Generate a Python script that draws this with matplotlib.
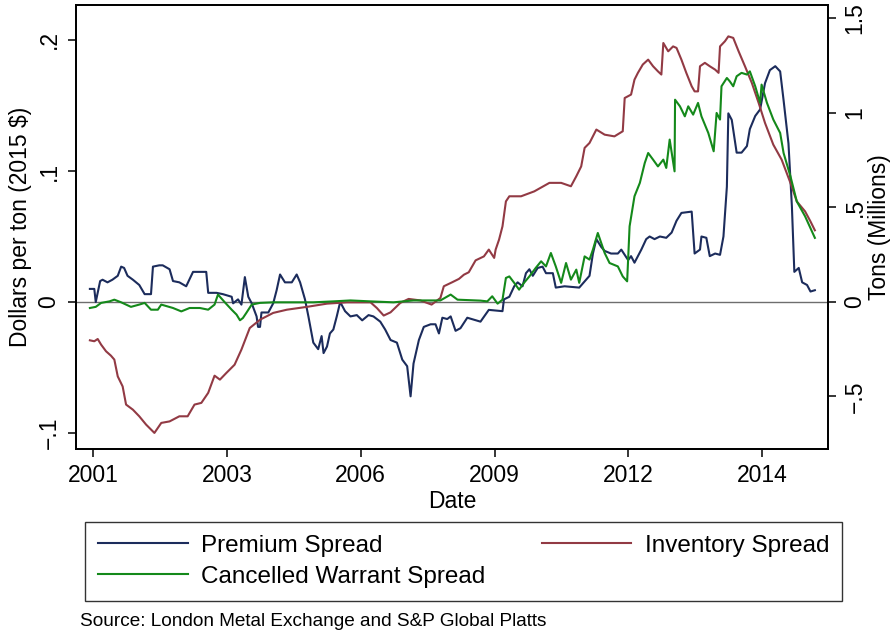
import matplotlib
matplotlib.use("Agg")
import matplotlib.pyplot as plt
import numpy as np
import pandas as pd

plt.rcParams['font.family'] = ['Liberation Sans', 'DejaVu Sans']

# premium spread, dollars per ton (left axis)
prem_year = [2001.00, 2001.09, 2001.12, 2001.21, 2001.26, 2001.36, 2001.46, 2001.57, 2001.64, 2001.70,
             2001.77, 2001.88, 2002.01, 2002.12, 2002.25, 2002.29, 2002.42, 2002.49, 2002.63, 2002.70,
             2002.83, 2002.97, 2003.11, 2003.38, 2003.42, 2003.59, 2003.72, 2003.90, 2003.93, 2004.03,
             2004.10, 2004.17, 2004.24, 2004.31, 2004.41, 2004.44, 2004.48, 2004.51, 2004.65, 2004.75,
             2004.82, 2004.89, 2004.99, 2005.13, 2005.23, 2005.30, 2005.40, 2005.47, 2005.57, 2005.67,
             2005.74, 2005.78, 2005.85, 2005.91, 2005.98, 2006.05, 2006.12, 2006.22, 2006.33, 2006.46,
             2006.57, 2006.70, 2006.80, 2006.94, 2007.04, 2007.15, 2007.28, 2007.39, 2007.49, 2007.56,
             2007.62, 2007.73, 2007.83, 2007.97, 2008.07, 2008.14, 2008.21, 2008.31, 2008.38, 2008.48,
             2008.58, 2008.72, 2008.99, 2009.16, 2009.44, 2009.47, 2009.58, 2009.68, 2009.75, 2009.85,
             2009.92, 2009.99, 2010.06, 2010.16, 2010.26, 2010.33, 2010.47, 2010.53, 2010.71, 2011.01,
             2011.15, 2011.22, 2011.29, 2011.36, 2011.46, 2011.53, 2011.66, 2011.80, 2011.87, 2011.94,
             2012.01, 2012.07, 2012.14, 2012.28, 2012.38, 2012.45, 2012.55, 2012.66, 2012.79, 2012.90,
             2013.00, 2013.10, 2013.31, 2013.37, 2013.48, 2013.51, 2013.61, 2013.68, 2013.79, 2013.89,
             2013.96, 2014.03, 2014.06, 2014.13, 2014.23, 2014.33, 2014.44, 2014.50, 2014.61, 2014.71,
             2014.81, 2014.91, 2015.02, 2015.12, 2015.19, 2015.29, 2015.36, 2015.41, 2015.50, 2015.57,
             2015.67, 2015.74, 2015.83]
prem_val = [0.010, 0.010, 0.000, 0.016, 0.017, 0.015, 0.017, 0.020, 0.027, 0.026,
            0.020, 0.017, 0.013, 0.006, 0.006, 0.027, 0.028, 0.028, 0.025, 0.016,
            0.015, 0.012, 0.023, 0.023, 0.007, 0.007, 0.006, 0.004, -0.001, 0.002,
            -0.002, 0.019, 0.004, -0.001, -0.011, -0.019, -0.019, -0.008, -0.008, -0.001,
            0.009, 0.021, 0.015, 0.015, 0.021, 0.015, 0.002, -0.011, -0.031, -0.036,
            -0.026, -0.039, -0.034, -0.024, -0.021, -0.011, 0.000, -0.007, -0.011, -0.010,
            -0.014, -0.010, -0.011, -0.015, -0.021, -0.029, -0.031, -0.044, -0.049, -0.072,
            -0.047, -0.029, -0.019, -0.017, -0.017, -0.024, -0.012, -0.013, -0.011, -0.022,
            -0.020, -0.012, -0.015, -0.006, -0.007, 0.002, 0.004, 0.012, 0.015, 0.012,
            0.022, 0.025, 0.020, 0.026, 0.027, 0.022, 0.022, 0.011, 0.012, 0.011,
            0.017, 0.020, 0.037, 0.048, 0.042, 0.039, 0.037, 0.037, 0.040, 0.036,
            0.032, 0.035, 0.030, 0.040, 0.048, 0.050, 0.048, 0.050, 0.049, 0.053,
            0.062, 0.068, 0.069, 0.037, 0.040, 0.050, 0.049, 0.035, 0.037, 0.036,
            0.050, 0.088, 0.144, 0.139, 0.114, 0.114, 0.119, 0.132, 0.142, 0.147,
            0.167, 0.177, 0.180, 0.176, 0.154, 0.121, 0.073, 0.023, 0.026, 0.015,
            0.013, 0.008, 0.009]

# inventory spread, million tons (right axis)
inv_year = [2001.00, 2001.09, 2001.16, 2001.23, 2001.33, 2001.43, 2001.50, 2001.57, 2001.67, 2001.74,
            2001.88, 2002.01, 2002.15, 2002.32, 2002.46, 2002.63, 2002.83, 2003.00, 2003.14, 2003.28,
            2003.42, 2003.55, 2003.66, 2003.79, 2003.96, 2004.10, 2004.27, 2004.48, 2004.75, 2005.03,
            2005.44, 2005.85, 2006.26, 2006.74, 2006.87, 2007.01, 2007.15, 2007.35, 2007.52, 2007.76,
            2007.99, 2008.17, 2008.24, 2008.41, 2008.55, 2008.65, 2008.75, 2008.89, 2009.06, 2009.16,
            2009.27, 2009.30, 2009.37, 2009.44, 2009.51, 2009.58, 2009.82, 2010.09, 2010.40, 2010.64,
            2010.84, 2010.95, 2011.05, 2011.12, 2011.22, 2011.36, 2011.53, 2011.73, 2011.90, 2011.94,
            2012.07, 2012.14, 2012.21, 2012.31, 2012.42, 2012.52, 2012.62, 2012.69, 2012.73, 2012.83,
            2012.93, 2013.00, 2013.10, 2013.20, 2013.31, 2013.37, 2013.44, 2013.48, 2013.58, 2013.68,
            2013.79, 2013.86, 2013.89, 2013.99, 2014.06, 2014.16, 2014.27, 2014.40, 2014.54, 2014.68,
            2014.81, 2014.98, 2015.15, 2015.33, 2015.46, 2015.63, 2015.74, 2015.83]
inv_val = [-0.203, -0.208, -0.196, -0.226, -0.261, -0.284, -0.305, -0.394, -0.447, -0.543,
           -0.570, -0.605, -0.649, -0.693, -0.640, -0.632, -0.605, -0.605, -0.543, -0.534,
           -0.481, -0.390, -0.411, -0.376, -0.332, -0.252, -0.138, -0.094, -0.058, -0.041,
           -0.026, -0.009, -0.002, -0.002, -0.032, -0.072, -0.055, -0.005, 0.016, 0.008,
           -0.014, 0.021, 0.083, 0.104, 0.122, 0.144, 0.157, 0.220, 0.241, 0.277,
           0.233, 0.277, 0.330, 0.400, 0.532, 0.559, 0.559, 0.585, 0.630, 0.630,
           0.612, 0.665, 0.717, 0.815, 0.841, 0.912, 0.885, 0.876, 0.903, 1.079,
           1.097, 1.176, 1.212, 1.256, 1.282, 1.247, 1.220, 1.203, 1.370, 1.326,
           1.352, 1.344, 1.282, 1.212, 1.141, 1.114, 1.114, 1.247, 1.265, 1.247,
           1.229, 1.212, 1.352, 1.379, 1.405, 1.397, 1.326, 1.247, 1.159, 1.053,
           0.947, 0.832, 0.753, 0.630, 0.532, 0.479, 0.426, 0.379]

# cancelled warrant spread, million tons (right axis)
cw_year = [2001.00, 2001.12, 2001.23, 2001.40, 2001.50, 2001.64, 2001.84, 2002.01, 2002.12, 2002.25,
           2002.39, 2002.46, 2002.70, 2002.87, 2003.04, 2003.25, 2003.42, 2003.55, 2003.62, 2003.76,
           2003.90, 2004.00, 2004.07, 2004.13, 2004.20, 2004.31, 2004.48, 2004.75, 2005.16, 2005.57,
           2005.98, 2006.33, 2006.74, 2007.21, 2007.62, 2008.17, 2008.38, 2008.52, 2008.99, 2009.13,
           2009.23, 2009.34, 2009.44, 2009.51, 2009.58, 2009.68, 2009.78, 2009.88, 2009.99, 2010.12,
           2010.23, 2010.33, 2010.43, 2010.53, 2010.64, 2010.74, 2010.84, 2010.95, 2011.01, 2011.12,
           2011.22, 2011.29, 2011.39, 2011.53, 2011.63, 2011.80, 2011.90, 2011.99, 2012.04, 2012.14,
           2012.25, 2012.35, 2012.42, 2012.52, 2012.62, 2012.73, 2012.79, 2012.86, 2012.96, 2012.97,
           2013.07, 2013.17, 2013.24, 2013.34, 2013.44, 2013.51, 2013.65, 2013.76, 2013.82, 2013.89,
           2013.92, 2014.03, 2014.09, 2014.16, 2014.23, 2014.33, 2014.44, 2014.50, 2014.61, 2014.71,
           2014.74, 2014.85, 2014.98, 2015.12, 2015.19, 2015.33, 2015.46, 2015.63, 2015.83]
cw_val = [-0.032, -0.026, -0.005, 0.003, 0.012, -0.002, -0.026, -0.014, -0.005, -0.041,
          -0.041, -0.014, -0.032, -0.050, -0.032, -0.032, -0.041, -0.014, 0.039, -0.002,
          -0.041, -0.067, -0.097, -0.085, -0.058, -0.014, -0.005, -0.002, -0.002, -0.002,
          0.003, 0.008, 0.003, -0.002, 0.008, 0.008, 0.039, 0.012, 0.007, 0.003,
          0.030, -0.009, 0.012, 0.127, 0.135, 0.101, 0.065, 0.101, 0.135, 0.180,
          0.215, 0.188, 0.259, 0.188, 0.101, 0.206, 0.118, 0.171, 0.101, 0.241,
          0.224, 0.277, 0.365, 0.259, 0.206, 0.188, 0.135, 0.109, 0.400, 0.559,
          0.630, 0.735, 0.788, 0.753, 0.717, 0.753, 0.709, 0.859, 0.691, 1.070,
          1.035, 0.982, 1.035, 0.991, 1.053, 0.982, 0.894, 0.797, 1.000, 0.965,
          1.141, 1.185, 1.167, 1.141, 1.194, 1.212, 1.203, 1.220, 1.141, 1.053,
          1.150, 1.053, 0.965, 0.894, 0.788, 0.665, 0.532, 0.453, 0.339]

# date ticks sit every 1000 days from 1960-01-01, labelled by year
tick_days = [15000, 16000, 17000, 18000, 19000, 20000]
left_ticks = [-0.1, 0, 0.1, 0.2]
left_labels = ['\u2212.1', '0', '.1', '.2']
right_ticks = [-0.5, 0, 0.5, 1, 1.5]
right_labels = ['\u2212.5', '0', '.5', '1', '1.5']

navy = '#1c2c5c'
maroon = '#923a44'
green = '#14891a'

epoch = pd.Timestamp('1960-01-01')
def to_date(years):
    y = np.asarray(years)
    return pd.Timestamp('2001-01-01') + pd.to_timedelta((y - 2001) * 365.25, unit='D')

fig = plt.figure(figsize=(8.91, 6.31), dpi=100)
ax = fig.add_axes([75.7 / 891, 1 - 449 / 631, (828.3 - 75.7) / 891, 444 / 631])
ax2 = ax.twinx()

ax.axhline(0, color='#6e6e6e', lw=1.0, zorder=1)
l1, = ax.plot(to_date(prem_year), prem_val, color=navy, lw=1.5, zorder=3)
l2, = ax2.plot(to_date(inv_year), inv_val, color=maroon, lw=1.5)
l3, = ax2.plot(to_date(cw_year), cw_val, color=green, lw=1.5)

ax.set_xlim(epoch + pd.Timedelta(days=14870), epoch + pd.Timedelta(days=20493))
ax.set_ylim(-0.1122, 0.2267)
ax2.set_ylim(-0.778, 1.571)

tick_dates = [epoch + pd.Timedelta(days=d) for d in tick_days]
ax.set_xticks(tick_dates)
ax.set_xticklabels([str(t.year) for t in tick_dates], fontsize=16.5)
ax.set_yticks(left_ticks)
ax.set_yticklabels(left_labels, fontsize=16.5, rotation=90, va='center', ha='right')
ax2.set_yticks(right_ticks)
ax2.set_yticklabels(right_labels, fontsize=16.5, rotation=90, va='center', ha='left')

for a in (ax, ax2):
    a.tick_params(length=6, width=1.1, color='black', pad=5)
    for s in a.spines.values():
        s.set_linewidth(1.3)

ax.set_xlabel('Date', fontsize=16.5, labelpad=2)
ax.set_ylabel('Dollars per ton (2015 $)', fontsize=16.5, labelpad=4)
ax2.set_ylabel('Tons (Millions)', fontsize=16.5, labelpad=1)

leg = fig.legend([l1, l3, l2], ['Premium Spread', 'Cancelled Warrant Spread', 'Inventory Spread'],
                 loc='upper left', bbox_to_anchor=(85 / 891, 1 - 598 / 631, 757 / 891, 76 / 631),
                 mode='expand', ncol=2, fontsize=17.5, frameon=True, fancybox=False,
                 edgecolor='black', handlelength=3.7, handletextpad=0.55, borderpad=0.52,
                 labelspacing=0.38, borderaxespad=0)
leg.get_frame().set_linewidth(1.0)

fig.text(80 / 891, 1 - 621 / 631, 'Source: London Metal Exchange and S&P Global Platts',
         fontsize=13.7, va='center', ha='left')

plt.savefig('out.png', dpi=100)
